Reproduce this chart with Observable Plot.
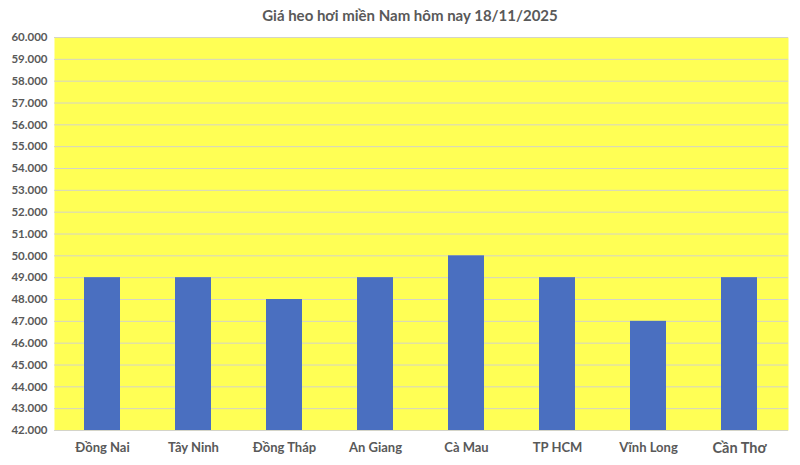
<!DOCTYPE html>
<html>
<head>
<meta charset="utf-8">
<script src="https://cdn.jsdelivr.net/npm/d3@7"></script>
<script src="https://cdn.jsdelivr.net/npm/@observablehq/plot@0.6"></script>
<style>
  html, body { margin: 0; padding: 0; background: #fff; }
  #wrap { width: 800px; height: 465px; position: relative; font-family: Lato, "Open Sans", sans-serif; }
  #title { height: 30px; line-height: 30px; text-align: center; font-size: 15px; font-weight: bold; color: #595959; padding-left: 20px; box-sizing: border-box; }
</style>
</head>
<body>
<div id="wrap">
  <div id="title">Giá heo hơi miền Nam hôm nay 18/11/2025</div>
  <div id="chart"></div>
</div>
<script>
const provinces = ["Đồng Nai", "Tây Ninh", "Đồng Tháp", "An Giang", "Cà Mau", "TP HCM", "Vĩnh Long", "Cần Thơ"];
const prices = [49000, 49000, 48000, 49000, 50000, 49000, 47000, 49000];
const yTicks = [42000, 43000, 44000, 45000, 46000, 47000, 48000, 49000, 50000, 51000, 52000, 53000, 54000, 55000, 56000, 57000, 58000, 59000, 60000];

const data = provinces.map((p, i) => ({province: p, price: prices[i]}));
const fmt = d => d3.format(",")(d).replace(/,/g, ".");

const chart = Plot.plot({
  width: 800,
  height: 435,
  marginLeft: 54,
  marginRight: 12,
  marginTop: 7,
  marginBottom: 35,
  style: {fontFamily: "Lato, 'Open Sans', sans-serif", fontWeight: "bold", color: "#595959", background: "transparent"},
  x: {domain: provinces, paddingInner: 0.6, paddingOuter: 0.3, label: null},
  y: {domain: [42000, 60000], label: null},
  marks: [
    Plot.frame({fill: "#ffff55", stroke: null}),
    Plot.gridY(yTicks, {stroke: "#d4d4c8", strokeOpacity: 1, strokeWidth: 1}),
    Plot.barY(data, {x: "province", y1: 42000, y2: "price", fill: "#4a6fc0"}),
    Plot.axisY({ticks: yTicks, tickFormat: fmt, tickSize: 0, tickPadding: 7, fontSize: 11.5, fill: "#595959"}),
    Plot.axisX({tickSize: 0, tickPadding: 12, fontSize: d => d === "Cần Thơ" ? 14.5 : 13, fill: "#595959"})
  ]
});
document.getElementById("chart").appendChild(chart);
</script>
</body>
</html>
